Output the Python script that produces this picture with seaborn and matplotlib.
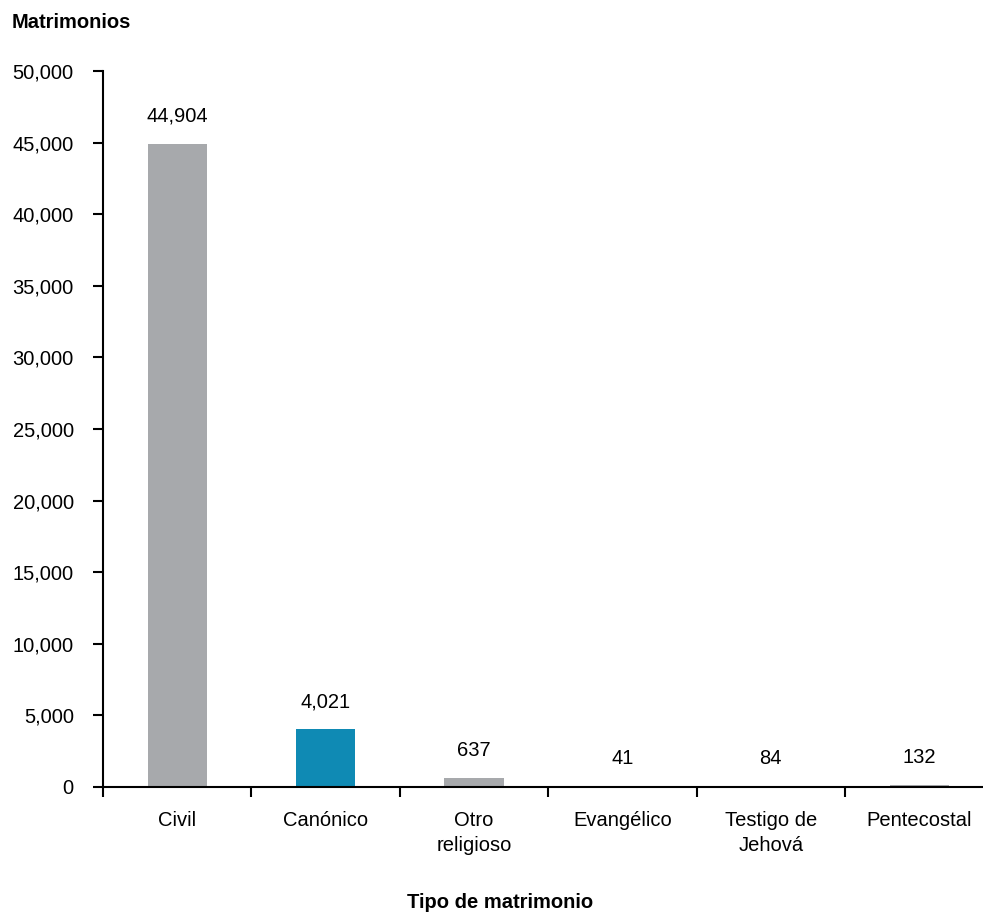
import numpy as np
import pandas as pd
import matplotlib
matplotlib.use("Agg")
import matplotlib.pyplot as plt
import seaborn as sns
from matplotlib.ticker import FixedLocator, FuncFormatter

# data
categories = ["Civil", "Canónico", "Otro\nreligioso", "Evangélico", "Testigo de\nJehová", "Pentecostal"]
values = [44904, 4021, 637, 41, 84, 132]
bar_colors = ["#A7A9AC", "#0F8AB4", "#A7A9AC", "#A7A9AC", "#A7A9AC", "#A7A9AC"]
y_ticks = [0, 5000, 10000, 15000, 20000, 25000, 30000, 35000, 40000, 45000, 50000]

sns.set_style("white")
plt.rcParams["font.family"] = ["Liberation Sans", "DejaVu Sans"]
plt.rcParams["text.color"] = "black"
plt.rcParams["xtick.color"] = "black"
plt.rcParams["ytick.color"] = "black"

FS = 14.5

df = pd.DataFrame({"tipo": categories, "n": values})

fig = plt.figure(figsize=(9.83, 9.13), dpi=100)
ax = fig.add_axes([103 / 983, 1 - 787 / 913, 880 / 983, (787 - 71) / 913])

sns.barplot(data=df, x="tipo", y="n", hue="tipo", palette=bar_colors,
            legend=False, width=0.4, saturation=1, linewidth=0, ax=ax)

for c in ax.containers:
    ax.bar_label(c, labels=[f"{int(round(v)):,}" for v in c.datavalues],
                 padding=13, fontsize=FS, color="black")

ax.yaxis.set_major_locator(FixedLocator(y_ticks))
ax.yaxis.set_major_formatter(FuncFormatter(lambda v, p: f"{int(v):,}"))

# ticks sit on category boundaries, labels in between
ax.set_xticks(np.arange(len(categories) + 1) - 0.5)
ax.set_xticklabels([])
ax.set_xticks(np.arange(len(categories)), minor=True)
ax.set_xticklabels(categories, minor=True, fontsize=FS, linespacing=1.45)
ax.tick_params(axis="x", which="major", bottom=True, direction="out", length=7, width=1.5, color="black")
ax.tick_params(axis="x", which="minor", bottom=True, length=0, pad=17)
ax.tick_params(axis="y", left=True, direction="out", length=7, width=1.5, color="black", labelsize=FS, pad=14)

# limits last, set_xticks would widen them
ax.set_ylim(0, 50000)
ax.set_xlim(-0.5, -0.5 + 880 / 148.4)

for side in ["top", "right"]:
    ax.spines[side].set_visible(False)
for side in ["left", "bottom"]:
    ax.spines[side].set_color("black")
    ax.spines[side].set_linewidth(1.5)

ax.set_xlabel("")
ax.set_ylabel("")
fig.text(12 / 983, 1 - 22 / 913, "Matrimonios", fontsize=FS, fontweight="bold", va="center", ha="left")
fig.text(500 / 983, 1 - 902 / 913, "Tipo de matrimonio", fontsize=FS, fontweight="bold", va="center", ha="center")

fig.savefig("out.png", dpi=100)
